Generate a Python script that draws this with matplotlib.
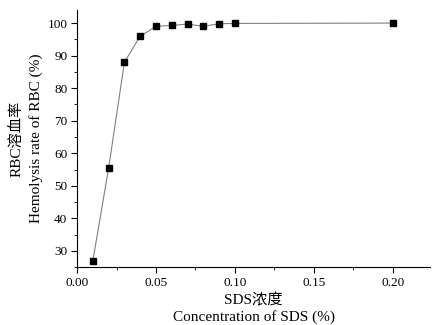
import matplotlib
matplotlib.use("Agg")
import matplotlib.pyplot as plt
from matplotlib.ticker import MultipleLocator

conc = [0.01, 0.02, 0.03, 0.04, 0.05, 0.06, 0.07, 0.08, 0.09, 0.10, 0.20]
hemolysis = [27.0, 55.5, 88.0, 96.0, 99.0, 99.3, 99.7, 99.0, 99.8, 99.9, 100.0]
xlabel = "SDS浓度\nConcentration of SDS (%)"
ylabel = "RBC溶血率\nHemolysis rate of RBC (%)"

plt.rcParams['font.family'] = ['Liberation Serif', 'Noto Sans CJK SC']

fig = plt.figure(figsize=(4.33, 3.25), dpi=100)
ax = fig.add_axes([0.178, 0.178, 0.815, 0.791])
ax.plot(conc, hemolysis, color='#808080', lw=0.8, marker='s', ms=5,
        mfc='black', mec='black')
ax.set_xlim(0, 0.2235)
ax.set_ylim(25, 104)
ax.xaxis.set_major_locator(MultipleLocator(0.05))
ax.xaxis.set_minor_locator(MultipleLocator(0.025))
ax.yaxis.set_major_locator(MultipleLocator(10))
ax.yaxis.set_minor_locator(MultipleLocator(5))
ax.xaxis.set_major_formatter(plt.FuncFormatter(lambda v, p: f"{v:.2f}"))
for s in ['top', 'right']:
    ax.spines[s].set_visible(False)
ax.tick_params(which='major', direction='out', length=4, labelsize=9.5, pad=3)
ax.tick_params(which='minor', direction='out', length=2)
ax.set_xlabel(xlabel, fontsize=11, linespacing=1.3, labelpad=3)
ax.set_ylabel(ylabel, fontsize=11, linespacing=1.55, labelpad=3)
fig.savefig("out.png", dpi=100)
